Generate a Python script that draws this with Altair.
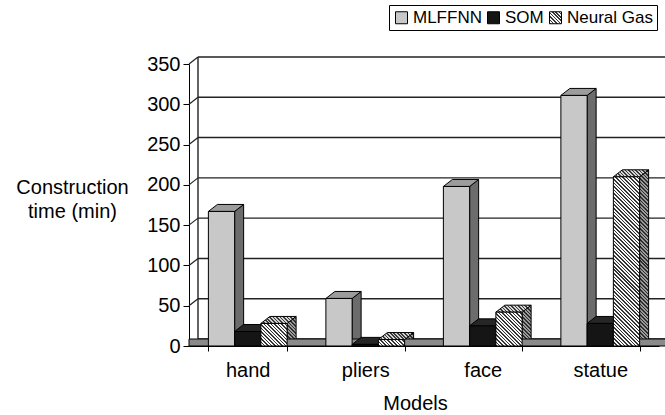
import altair as alt
import pandas as pd

# Construction time (min) per model and network type
categories = ["hand", "pliers", "face", "statue"]
series = ["MLFFNN", "SOM", "Neural Gas"]
mlffnn = [167, 59, 198, 311]
som = [18, 2, 25, 28]
neural_gas = [28, 8, 42, 210]
y_ticks = [0, 50, 100, 150, 200, 250, 300, 350]

rows = []
for i, model in enumerate(categories):
    for name, vals in zip(series, [mlffnn, som, neural_gas]):
        rows.append({"model": model, "series": name, "time": vals[i]})
df = pd.DataFrame(rows)

# plot geometry
W, H = 470, 282
Y_MAX = 350
DX, DY = 9, 7            # depth of the pseudo-3D extrusion
SIDE_LEN = 400           # side faces run down past the floor and are clipped
PAD_INNER = 0.33
step = W / len(categories)
bar_w = step * (1 - PAD_INNER) / len(series)

FONT = "Liberation Sans"
front_colors = ["#c8c8c8", "#151515"]
top_colors = ["#9c9c9c", "#262626"]
side_colors = ["#6c6c6c", "#0c0c0c"]
FLOOR = "#8a8a8a"
LINE = "#222222"


def hatch(w, h, light="#f6f6f6", dark="#353535", period=3.6, dark_frac=0.45):
    """Linear gradient with hard stops that draws 45-degree diagonal stripes
    on a w x h box (gradient coordinates are relative to the bounding box)."""
    span = w + h
    n = max(1, round(span / period))
    k = span / (w * w + h * h)
    stops = []
    for j in range(n):
        a, b, c = j / n, (j + dark_frac) / n, (j + 1) / n
        stops += [(a, dark), (b, dark), (b, light), (c, light)]
    return {
        "gradient": "linear",
        "x1": 0, "y1": 1, "x2": round(k * w, 5), "y2": round(1 - k * h, 5),
        "stops": [{"offset": round(o, 5), "color": col} for o, col in stops],
    }


def hatch_expr(w, h, **kw):
    g = hatch(w, h, **kw)
    stops = ",".join("{offset:%s,color:'%s'}" % (s["offset"], s["color"]) for s in g["stops"])
    return alt.ExprRef(
        "{gradient:'linear',x1:%s,y1:%s,x2:%s,y2:%s,stops:[%s]}"
        % (g["x1"], g["y1"], g["x2"], g["y2"], stops)
    )


x_axis = alt.Axis(
    title="Models", labelAngle=0, labelFontSize=20, labelColor="black",
    labelBaseline="alphabetic", labelPadding=25, tickSize=5, tickBand="extent",
    tickColor="black", domainColor="black", titleFontSize=20,
    titleFontWeight="normal", titleColor="black", titleX=226, titleY=63,
    titleBaseline="alphabetic", grid=False,
)
y_axis = alt.Axis(
    title=["Construction", "time (min)"], values=y_ticks, labelFontSize=20,
    labelColor="black", tickSize=6, labelPadding=3, tickColor="black",
    domainColor="black", titleAngle=0, titleX=-117, titleY=129,
    titleAlign="center", titleBaseline="alphabetic", titleLineHeight=24,
    titleFontSize=20, titleFontWeight="normal", titleColor="black", grid=False,
)

x_scale = alt.Scale(domain=categories, paddingInner=PAD_INNER, paddingOuter=PAD_INNER / 2)
y_scale = alt.Scale(domain=[0, Y_MAX], nice=False)
off_scale = alt.Scale(domain=series, paddingInner=0, paddingOuter=0)

x_enc = alt.X("model:N", sort=categories, scale=x_scale, axis=x_axis)
off_enc = alt.XOffset("series:N", scale=off_scale)
y_enc = alt.Y("time:Q", scale=y_scale, axis=y_axis)

ticks_df = pd.DataFrame({"v": y_ticks})

# back-wall grid lines
grid = alt.Chart(ticks_df).mark_rule(
    color=LINE, strokeWidth=1.4, yOffset=-DY
).encode(
    y=alt.Y("v:Q", scale=y_scale, axis=y_axis),
    x=alt.value(DX), x2=alt.value(W + DX),
)

# short slanted links from the axis ticks back to the wall
links = alt.Chart(ticks_df).mark_rule(
    color=LINE, strokeWidth=1.2, y2Offset=-DY
).encode(
    y=alt.Y("v:Q", scale=y_scale, axis=y_axis), y2=alt.Y2("v:Q"),
    x=alt.value(0), x2=alt.value(DX),
)

# right-hand side faces of the bars
hw = bar_w / 2
side_path = "M{a},0L{b},{c}L{b},{d}L{a},{d}Z".format(
    a=round(hw, 2), b=round(hw + DX, 2), c=-DY, d=SIDE_LEN
)
sides = alt.Chart(df).mark_point(
    shape=side_path, size=4, filled=True, opacity=1, stroke="black",
    strokeWidth=1, clip=True,
).encode(
    x=x_enc, xOffset=off_enc, y=y_enc,
    fill=alt.Fill(
        "series:N",
        scale=alt.Scale(
            domain=series,
            range=side_colors + [hatch_expr(DX, SIDE_LEN + DY, light="#9a9a9a", dark="#2e2e2e")],
        ),
        legend=None,
    ),
)

# floor band
floor = alt.Chart(pd.DataFrame({"v": [0]})).mark_rect(
    fill=FLOOR, stroke="black", strokeWidth=1, x2Offset=DX, y2Offset=-DY
).encode(
    x=alt.value(0), x2=alt.value(W),
    y=alt.Y(datum=0, scale=y_scale, axis=y_axis), y2=alt.Y2(datum=0),
)

# left edge of the back wall
wall = alt.Chart(pd.DataFrame({"v": [0]})).mark_rule(
    color=LINE, strokeWidth=1.4, yOffset=-DY, y2Offset=-DY
).encode(
    x=alt.value(DX),
    y=alt.Y(datum=0, scale=y_scale, axis=y_axis), y2=alt.Y2(datum=Y_MAX),
)

# top faces: parallelograms sitting on each bar
top_path = "M{a},0L{b},0L{c},{d}L{e},{d}Z".format(
    a=round(-hw, 2), b=round(hw, 2), c=round(hw + DX, 2), d=-DY, e=round(-hw + DX, 2)
)
tops = alt.Chart(df).mark_point(
    shape=top_path, size=4, filled=True, opacity=1, stroke="black", strokeWidth=1
).encode(
    x=x_enc, xOffset=off_enc, y=y_enc,
    fill=alt.Fill(
        "series:N",
        scale=alt.Scale(
            domain=series,
            range=top_colors + [hatch_expr(bar_w + DX, DY, light="#d4d4d4", dark="#3a3a3a")],
        ),
        legend=None,
    ),
)

# front faces of the solid bars (carries the legend)
fronts = alt.Chart(df).transform_filter(
    alt.datum.series != "Neural Gas"
).mark_bar(stroke="black", strokeWidth=1).encode(
    x=x_enc, xOffset=off_enc, y=y_enc,
    fill=alt.Fill(
        "series:N",
        scale=alt.Scale(domain=series, range=front_colors + [hatch_expr(12, 12)]),
        legend=alt.Legend(
            title=None, orient="none", legendX=200, legendY=-59,
            direction="horizontal", symbolType="square", symbolSize=144,
            symbolStrokeColor="black", symbolStrokeWidth=1, labelFontSize=17,
            labelFont=FONT, labelColor="black", labelOffset=3, columnPadding=3,
            padding=4, strokeColor="black", fillColor="white",
        ),
    ),
)

# hatched front faces, one gradient per bar so the stripes stay at 45 degrees
hatched = []
for model, v in zip(categories, neural_gas):
    h = v * H / Y_MAX
    hatched.append(
        alt.Chart(df).transform_filter(
            (alt.datum.series == "Neural Gas") & (alt.datum.model == model)
        ).mark_bar(fill=hatch(bar_w, h), stroke="black", strokeWidth=1).encode(
            x=x_enc, xOffset=off_enc, y=y_enc,
        )
    )

chart = alt.layer(grid, links, sides, floor, wall, tops, fronts, *hatched).resolve_scale(
    fill="independent"
).properties(
    width=W, height=H, autosize="none",
    padding={"left": 189, "top": 64, "right": 6, "bottom": 69},
).configure(font=FONT).configure_view(stroke=None).configure_axis(
    labelFont=FONT, titleFont=FONT
)

chart.save("out.html", embed_options={"renderer": "svg", "actions": False})
